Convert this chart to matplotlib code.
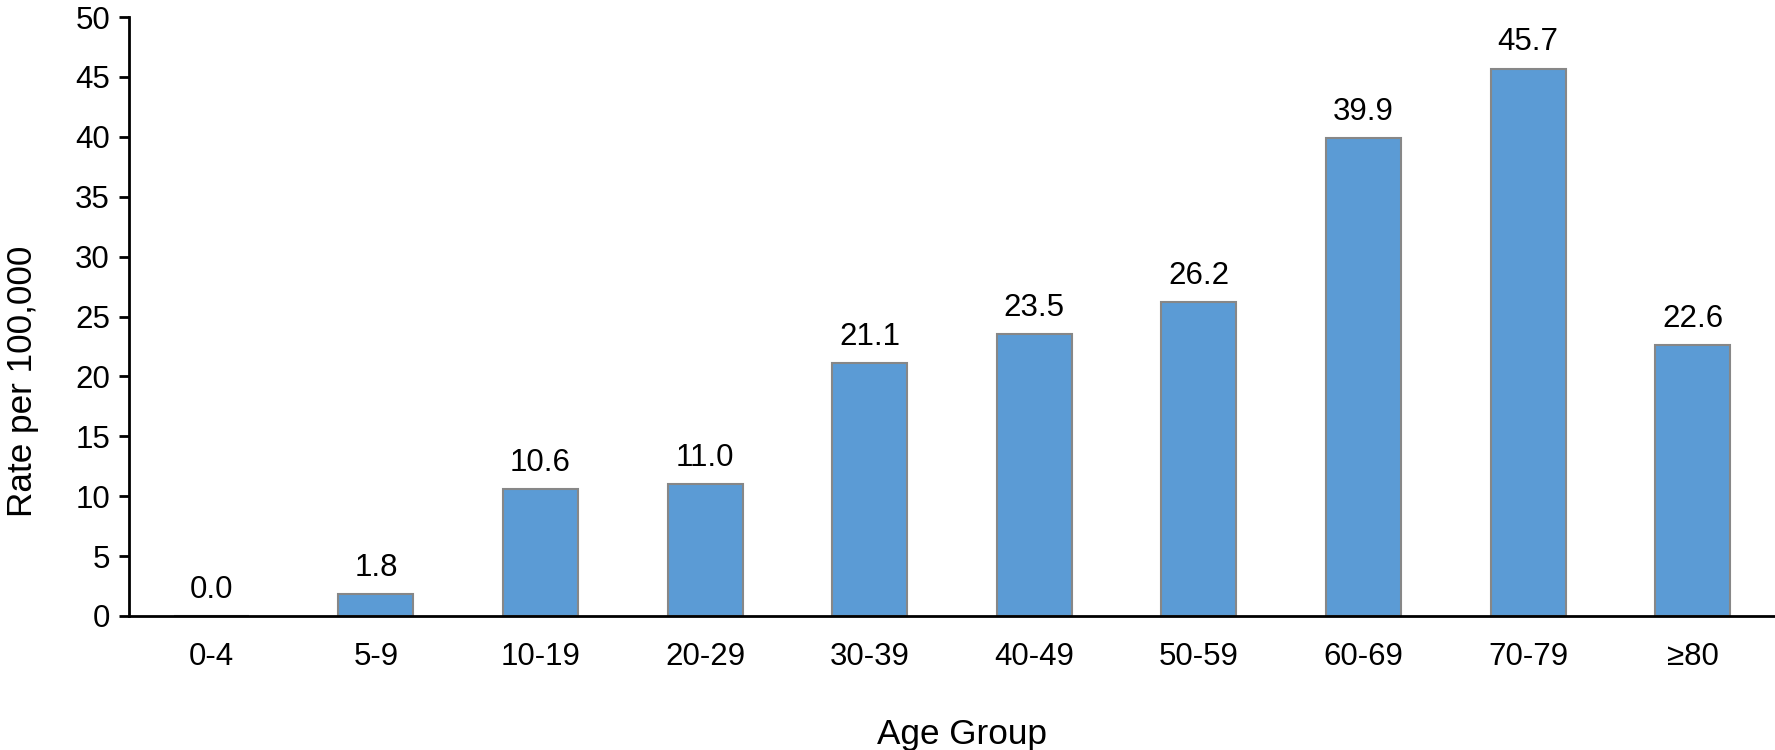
import matplotlib.pyplot as plt

plt.rcParams['font.family'] = ['Liberation Sans', 'DejaVu Sans']

age_groups = ["0-4", "5-9", "10-19", "20-29", "30-39", "40-49", "50-59", "60-69", "70-79", "\u226580"]
rates = [0.0, 1.8, 10.6, 11.0, 21.1, 23.5, 26.2, 39.9, 45.7, 22.6]

fig = plt.figure(figsize=(17.75, 7.5), dpi=100)
ax = fig.add_axes([0.0727, 0.1787, 0.9273, 0.7986])

x = range(len(age_groups))
bars = ax.bar(x, rates, width=0.456, color="#5B9BD5", edgecolor="#878787", linewidth=1.5)

# value labels, baseline ~18px above the bar top
for i, v in enumerate(rates):
    ax.annotate(f"{v:.1f}", (i, v), xytext=(0, 13), textcoords="offset points",
                ha="center", va="baseline", fontsize=22.5)

ax.set_xlim(-0.5, len(age_groups) - 0.5)
ax.set_ylim(0, 50)
ax.set_yticks(range(0, 51, 5))
ax.set_xticks(list(x))
ax.set_xticklabels(age_groups)
ax.tick_params(axis="y", labelsize=22.5, length=7.2, width=2, pad=6.5)
ax.tick_params(axis="x", labelsize=22.5, length=0, pad=19)

for s in ["top", "right"]:
    ax.spines[s].set_visible(False)
ax.spines["left"].set_linewidth(2)
ax.spines["bottom"].set_linewidth(2)

ax.set_ylabel("Rate per 100,000", fontsize=25.3)
ax.yaxis.set_label_coords(-0.0547, 0.392)
ax.set_xlabel("Age Group", fontsize=25.3)
ax.xaxis.set_label_coords(0.506, -0.170)

fig.savefig("out.png", dpi=100)
